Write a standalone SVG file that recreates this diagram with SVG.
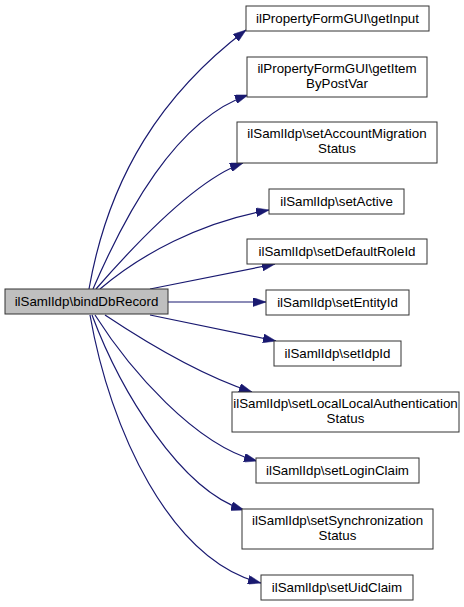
<svg xmlns="http://www.w3.org/2000/svg" width="464" height="607" viewBox="0 0 464 607">
<style>
.box{fill:#ffffff;stroke:#333333;stroke-width:1}
.main{fill:#bfbfbf;stroke:#333333;stroke-width:1}
text{font-family:"Liberation Sans",Arial,sans-serif;font-size:13.33px;fill:#000;text-anchor:middle}
.edge{fill:none;stroke:#191970;stroke-width:1.2;marker-end:url(#arr)}
</style>
<defs>
<marker id="arr" viewBox="0 0 13 9" refX="13" refY="4.5" markerWidth="13" markerHeight="9" markerUnits="userSpaceOnUse" orient="auto">
<path d="M0,0 L13,4.5 L0,9 z" fill="#191970" stroke="#191970" stroke-width="0.5"/>
</marker>
</defs>
<g id="edges">
<path class="edge" d="M89,289 C109,175 163,93 246,30"/>
<path class="edge" d="M93,289 C125,215 175,120 248,95"/>
<path class="edge" d="M96,289 C130,250 195,180 243,163"/>
<path class="edge" d="M100,289 C140,255 200,222 269,210"/>
<path class="edge" d="M150,289 L275,264"/>
<path class="edge" d="M168,302 L266,302"/>
<path class="edge" d="M150,315 L276,341"/>
<path class="edge" d="M105,315 C150,345 200,375 252,392"/>
<path class="edge" d="M95,315 C130,370 195,445 257,461"/>
<path class="edge" d="M92,315 C120,390 180,490 244,510"/>
<path class="edge" d="M90,315 C110,430 170,560 261,583"/>
</g>
<g id="n0"><rect class="main" x="5" y="289" width="163" height="25"/><text x="86.5" y="306">ilSamlIdp\bindDbRecord</text></g>
<g id="n1"><rect class="box" x="246" y="6" width="183" height="25"/><text x="337.5" y="23">ilPropertyFormGUI\getInput</text></g>
<g id="n2"><rect class="box" x="247" y="57" width="180" height="40"/><text x="337" y="73">ilPropertyFormGUI\getItem</text><text x="337" y="88">ByPostVar</text></g>
<g id="n3"><rect class="box" x="237" y="122" width="200" height="41"/><text x="337" y="138">ilSamlIdp\setAccountMigration</text><text x="337" y="153">Status</text></g>
<g id="n4"><rect class="box" x="269" y="189" width="135" height="25"/><text x="336.5" y="206">ilSamlIdp\setActive</text></g>
<g id="n5"><rect class="box" x="247" y="239" width="180" height="25"/><text x="337" y="256">ilSamlIdp\setDefaultRoleId</text></g>
<g id="n6"><rect class="box" x="266" y="290" width="143" height="25"/><text x="337.5" y="307">ilSamlIdp\setEntityId</text></g>
<g id="n7"><rect class="box" x="274" y="341" width="127" height="25"/><text x="337.5" y="358">ilSamlIdp\setIdpId</text></g>
<g id="n8"><rect class="box" x="232" y="392" width="227" height="40"/><text x="345.5" y="408">ilSamlIdp\setLocalLocalAuthentication</text><text x="345.5" y="423">Status</text></g>
<g id="n9"><rect class="box" x="256" y="458" width="163" height="25"/><text x="337.5" y="475">ilSamlIdp\setLoginClaim</text></g>
<g id="n10"><rect class="box" x="242" y="509" width="191" height="40"/><text x="337.5" y="525">ilSamlIdp\setSynchronization</text><text x="337.5" y="540">Status</text></g>
<g id="n11"><rect class="box" x="261" y="575" width="152" height="25"/><text x="337" y="592">ilSamlIdp\setUidClaim</text></g>
</svg>
